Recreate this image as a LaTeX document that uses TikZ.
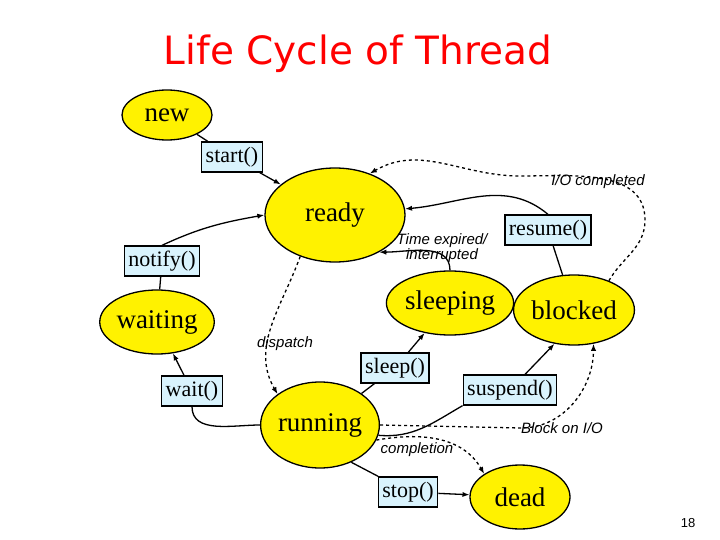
\documentclass[tikz,border=0pt]{standalone}
\usepackage{fontspec}
\setmainfont{Liberation Serif}
\newfontfamily\labelfont{Liberation Sans}
\newfontfamily\titlefont{DejaVu Sans}
\usetikzlibrary{shapes.geometric,arrows.meta,calc}

\begin{document}
\begin{tikzpicture}[x=1pt,y=-1pt,
  state/.style={ellipse,draw,line width=1.3pt,fill=yellow,inner sep=0pt,font=\fontsize{27}{29}\selectfont},
  call/.style={rectangle,draw,line width=1.3pt,fill=cyan!15,minimum height=30pt,inner sep=4pt,font=\fontsize{22}{24}\selectfont},
  note/.style={font=\labelfont\itshape\fontsize{15}{15}\selectfont,inner sep=0pt,align=center},
  go/.style={line width=1.3pt,-{Latex[length=7pt]}},
  link/.style={line width=1.3pt},
  dashgo/.style={line width=1.3pt,dashed,-{Latex[length=7pt]}}]
  \useasboundingbox (0,0) rectangle (720,540);
  \node[text=red,font=\titlefont\fontsize{39}{42}\selectfont] (title) at (358,54) {Life Cycle of Thread};
  % States
  \node[state,minimum width=90pt,minimum height=50pt] (new) at (167,115) {new};
  \node[state,minimum width=140pt,minimum height=94pt] (ready) at (335,215) {ready};
  \node[state,minimum width=100pt,minimum height=64pt] (waiting) at (157,322) {waiting};
  \node[state,minimum width=110pt,minimum height=86pt] (running) at (320,425) {running};
  \node[state,minimum width=106pt,minimum height=64pt] (sleeping) at (450,303) {sleeping};
  \node[state,minimum width=106pt,minimum height=70pt] (blocked) at (574,310) {blocked};
  \node[state,minimum width=100pt,minimum height=64pt] (dead) at (520,497) {dead};
  % Method calls
  \node[call] (start) at (232,157) {start()};
  \node[call] (notify) at (162,261) {notify()};
  \node[call] (wait) at (192,391) {wait()};
  \node[call] (sleep) at (395,368) {sleep()};
  \node[call] (resume) at (548,230) {resume()};
  \node[call] (suspend) at (510,390) {suspend()};
  \node[call] (stop) at (408,492) {stop()};
  % Labels
  \node[note] (iolab) at (598,182) {I/O completed};
  \node[note] (timelab) at (442,248) {Time expired/\\interrupted};
  \node[note] (displab) at (285,344) {dispatch};
  \node[note] (complab) at (417,450) {completion};
  \node[note] (blocklab) at (562,428) {Block on I/O};
  \node[font=\labelfont\fontsize{13}{13}\selectfont] (page) at (688,523) {18};
  \coordinate (iotop) at (520,176);
  %
  % Solid transitions
  \draw[link] (new) -- (start);
  \draw[go] (start) -- (ready);
  \draw[link] (waiting) -- (notify);
  \draw[go] (notify.north) to[out=25,in=190] (ready.west);
  \draw[link] (running.west) to[out=180,in=270] (wait.south);
  \draw[go] (wait) -- (waiting);
  \draw[link] (running) -- (sleep);
  \draw[go] (sleep) -- (sleeping);
  \draw[go] (sleeping.north) to[out=90,in=0] (ready.-40);
  \draw[link] (blocked) -- (resume);
  \draw[go] (resume.north) to[out=140,in=5] (ready.5);
  \draw[link] (running.-10) to[out=-5,in=210] (suspend.south west);
  \draw[go] (suspend) -- (blocked.-120);
  \draw[link] (running.-50) -- (stop);
  \draw[go] (stop) -- (dead);
  % Dashed transitions
  \draw[dashgo] (ready.-130) to[out=250,in=120] (running.north west);
  \draw[dashgo] (blocked.40) to[out=60,in=-90] (645,220) to[out=90,in=0] (iotop) to[out=180,in=30] (ready.50);
  \draw[dashgo] (running.east) -- (blocklab.west) to[out=0,in=270] (blocked.-60);
  \draw[dashgo] (running.-15) to[out=10,in=120] (dead.north west);
\end{tikzpicture}
\end{document}
